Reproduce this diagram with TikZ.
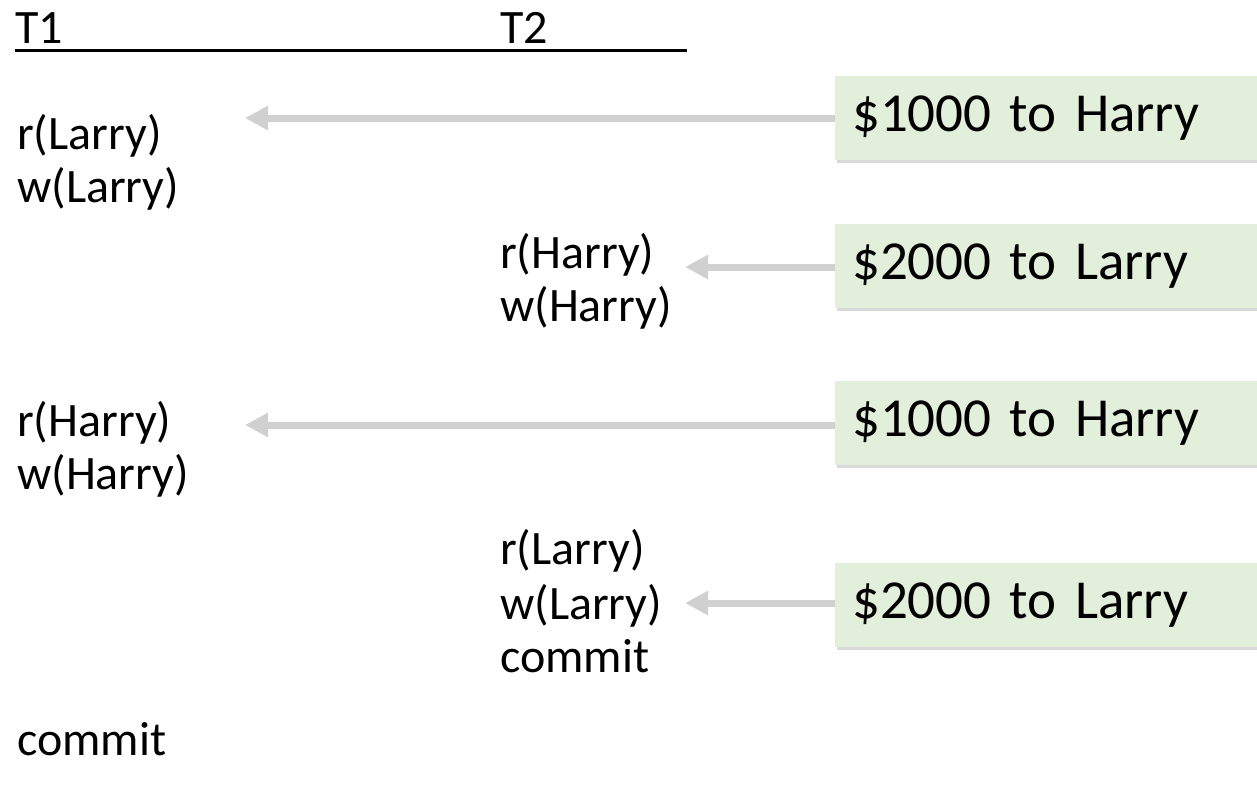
\documentclass[tikz,border=0pt]{standalone}
\usepackage{fontspec}
\setmainfont{Carlito}
\newfontfamily\notefont{Carlito}
\usetikzlibrary{arrows.meta,shadows,calc}

\definecolor{notegreen}{HTML}{E2EFDA}
\definecolor{flowgray}{HTML}{D0D0D0}

\newcommand\notetext{\notefont\fontsize{55}{59}\selectfont\spaceskip=0.17em\relax}

\tikzset{
  op/.style={anchor=base west, inner sep=0pt, font=\fontsize{48}{52}\selectfont},
  note/.style={anchor=west, fill=notegreen, draw=none, minimum width=480pt,
    minimum height=84pt, inner xsep=17pt, inner ysep=0pt, text width=446pt,
    align=left, font=\notetext,
    drop shadow={shadow xshift=2pt, shadow yshift=-3pt, opacity=0.25, fill=black!60}},
  flow/.style={draw=flowgray, line width=7pt, -{Triangle[length=23pt, width=23pt]}},
}

\begin{document}
\begin{tikzpicture}[x=1pt, y=-1pt]
  \useasboundingbox (0,0) rectangle (1257,793);

  % column headers
  \node[op] (t1) at (15,43) {T1};
  \node[op] (t2) at (500,43) {T2};
  \coordinate (ulA) at (15,50);
  \coordinate (ulB) at (687,50);
  \draw[line width=3pt] (ulA) -- (ulB);

  % T1 operations
  \node[op] (a1) at (17,149) {r(Larry)};
  \node[op] (a2) at (17,202) {w(Larry)};
  \node[op] (a3) at (17,436) {r(Harry)};
  \node[op] (a4) at (17,489) {w(Harry)};
  \node[op] (a5) at (17,755) {commit};

  % T2 operations
  \node[op] (b1) at (500,268) {r(Harry)};
  \node[op] (b2) at (500,321) {w(Harry)};
  \node[op] (b3) at (500,564) {r(Larry)};
  \node[op] (b4) at (500,619) {w(Larry)};
  \node[op] (b5) at (500,672) {commit};

  % transfer notes
  \node[note] (n1) at (835,118) {\$1000 to Harry};
  \node[note] (n2) at (835,266) {\$2000 to Larry};
  \node[note] (n3) at (835,423) {\$1000 to Harry};
  \node[note] (n4) at (835,605) {\$2000 to Larry};

  % arrow tips
  \coordinate (e1) at (245,118);
  \coordinate (e2) at (685,267);
  \coordinate (e3) at (245,425);
  \coordinate (e4) at (685,603);

  \draw[flow] (n1.west |- e1) -- (e1);
  \draw[flow] (n2.west |- e2) -- (e2);
  \draw[flow] (n3.west |- e3) -- (e3);
  \draw[flow] (n4.west |- e4) -- (e4);
\end{tikzpicture}
\end{document}
